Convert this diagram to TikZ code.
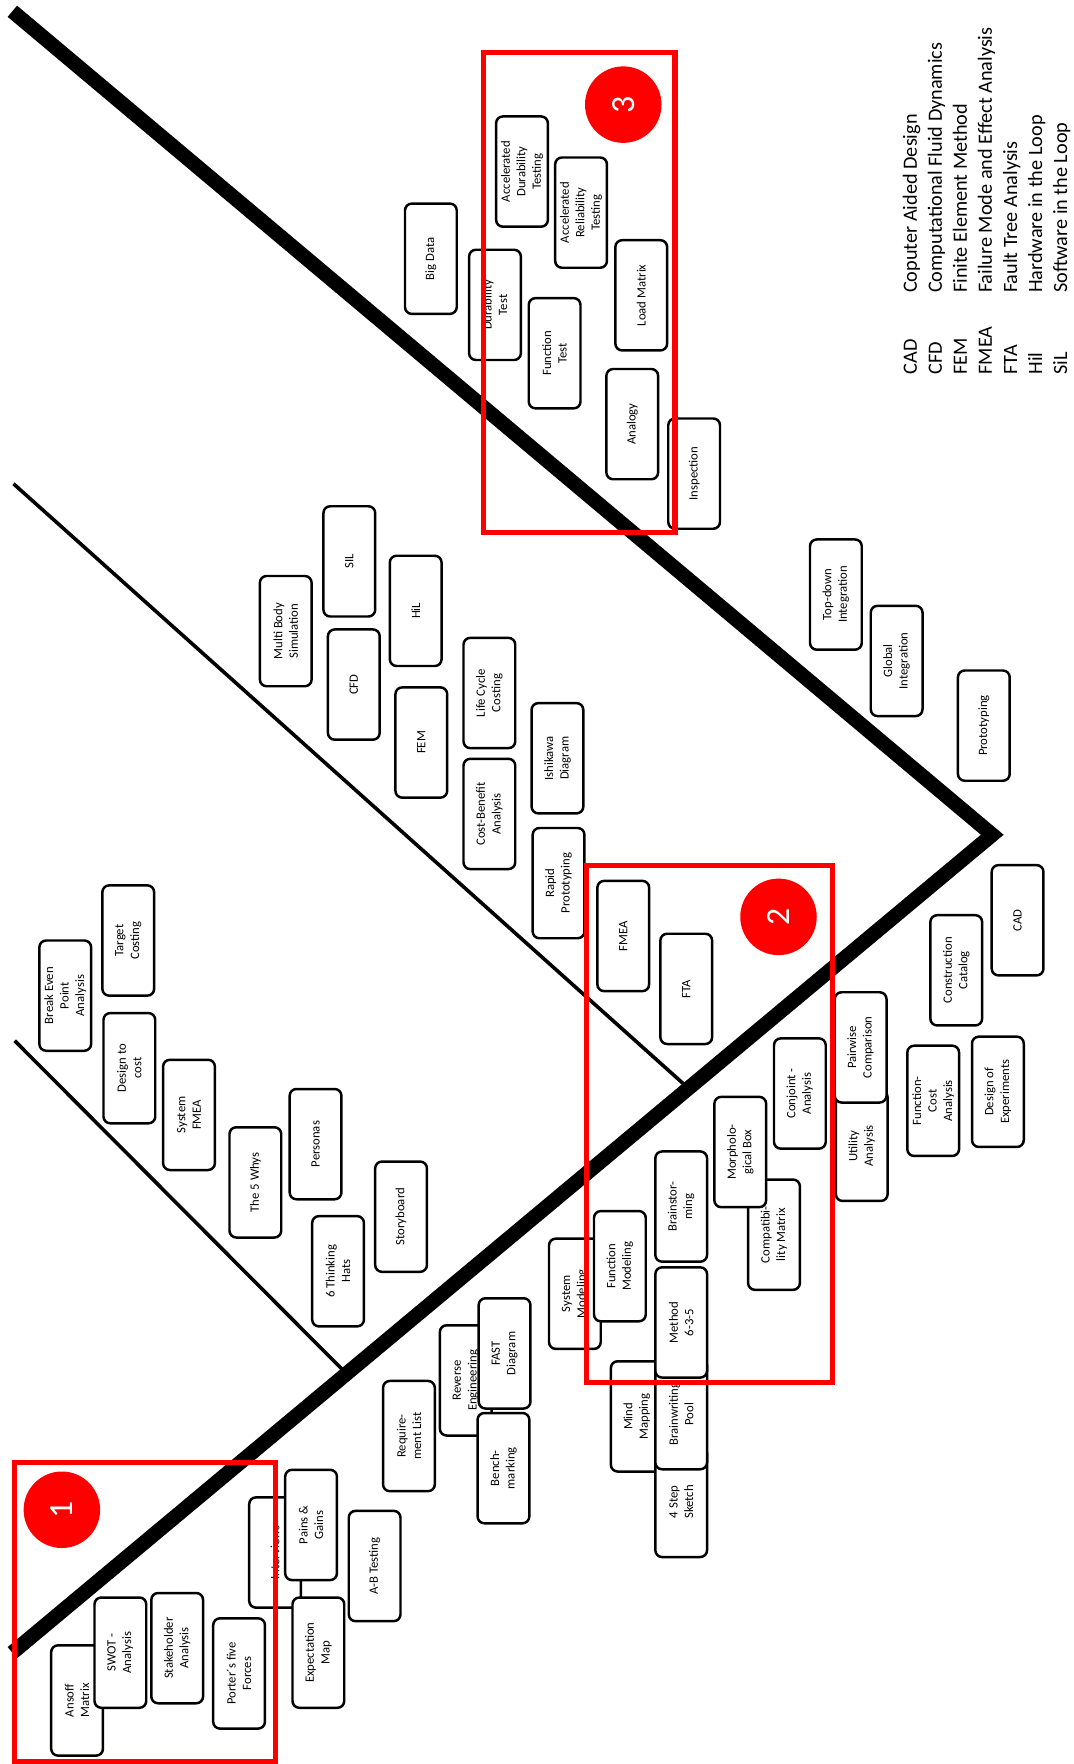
\documentclass[tikz,border=0pt]{standalone}
\usepackage{fontspec}
\setmainfont{Carlito}
\usetikzlibrary{calc}
\begin{document}
\begin{tikzpicture}[x=1pt,y=-1pt,
  bx/.style={draw, line width=2.2pt, rounded corners=6pt, fill=white, rotate=90,
    minimum width=98pt, minimum height=46pt, align=center, inner sep=1pt,
    font=\fontsize{11.3}{13.8}\selectfont},
  leg/.style={rotate=90, inner sep=0pt, font=\fontsize{18}{21}\selectfont},
  redframe/.style={draw=red, line width=4.5pt},
  numdisc/.style={circle, fill=red, minimum size=68pt, inner sep=0pt, text=white,
    rotate=90, font=\fontsize{30}{30}\selectfont},
  spine/.style={line width=13pt, line join=miter, line cap=butt},
  branch/.style={line width=3.2pt}
]
\useasboundingbox (0,0) rectangle (954,1568);

% spine and branches
\coordinate (S) at (11,10);
\coordinate (V) at (882,742);
\coordinate (E) at (11,1469);
\coordinate (b1s) at (12,430);
\coordinate (b2s) at (13,925);
\coordinate (b1e) at ($(V)!0.31!(E)$);
\coordinate (b2e) at ($(V)!0.659!(E)$);
\draw[spine] (S) -- (V) -- (E);
\draw[branch] (b1s) -- (b1e);
\draw[branch] (b2s) -- (b2e);

% group 3 area
\node[bx] (adt) at (464,152.5) {Accelerated\\Durability\\Testing};
\node[bx] (art) at (516.5,189) {Accelerated\\Reliability\\Testing};
\node[bx] (bigdata) at (383,230) {Big Data};
\node[bx] (durtest) at (440,271) {Durability\\Test};
\node[bx] (loadmx) at (570,262.5) {Load Matrix};
\node[bx] (functest) at (493,314) {Function\\Test};
\node[bx] (analogy) at (562,377) {Analogy};
\node[bx] (inspect) at (617,421) {Inspection};

% middle
\node[bx] (mbs) at (254,561) {Multi Body\\Simulation};
\node[bx] (sil) at (310.5,499) {SIL};
\node[bx] (cfd) at (314.5,608.5) {CFD};
\node[bx] (hil) at (369.5,543) {HiL};
\node[bx] (fem) at (374.5,660) {FEM};
\node[bx] (lcc) at (435,616) {Life Cycle\\Costing};
\node[bx] (cba) at (435,723.5) {Cost-Benefit\\Analysis};
\node[bx] (ishi) at (495.5,674) {Ishikawa\\Diagram};
\node[bx] (rapid) at (496.5,785) {Rapid\\Prototyping};

% right
\node[bx] (topdown) at (743,528.5) {Top-down\\Integration};
\node[bx] (global) at (797,587.5) {Global\\Integration};
\node[bx] (proto) at (874.5,645) {Prototyping};
\node[bx] (cad) at (904.5,818) {CAD};
\node[bx] (constr) at (850,862.5) {Construction\\Catalog};
\node[bx] (fca) at (829.5,978.5) {Function-\\Cost\\Analysis};
\node[bx] (doe) at (887,970.5) {Design of\\Experiments};
\node[bx] (utility) at (766,1018.5) {Utility\\Analysis};
\node[bx] (pairwise) at (765,931) {Pairwise\\Comparison};

% group 2
\node[bx] (fmea) at (554,832) {FMEA};
\node[bx] (fta) at (610,879) {FTA};
\node[bx] (conjoint) at (711,972) {Conjoint -\\Analysis};
\node[bx] (compat) at (688,1097.5) {Compatibi-\\lity Matrix};
\node[bx] (morph) at (658,1024) {Morpholo-\\gical Box};
\node[bx] (brainst) at (605.5,1072.5) {Brainstor-\\ming};
\node[bx] (sysmod) at (511,1150) {System\\Modeling};
\node[bx] (funcmod) at (551,1125.5) {Function\\Modeling};
\node[bx] (mindmap) at (566,1259) {Mind\\Mapping};
\node[bx] (foursk) at (605.5,1335) {4 Step\\Sketch};
\node[bx] (bwpool) at (605.5,1257) {Brainwriting\\Pool};
\node[bx] (m635) at (605.5,1175.5) {Method\\6-3-5};

% left upper
\node[bx] (breakeven) at (58,885) {Break Even\\Point\\Analysis};
\node[bx] (target) at (114,836) {Target\\Costing};
\node[bx] (d2c) at (115,949.5) {Design to\\cost};
\node[bx] (sysfmea) at (168,991) {System\\FMEA};
\node[bx] (whys) at (227,1051) {The 5 Whys};
\node[bx] (personas) at (280.5,1017) {Personas};
\node[bx] (story) at (356.5,1081.5) {Storyboard};
\node[bx] (hats) at (300.5,1130) {6 Thinking\\Hats};

% lower middle
\node[bx] (reqlist) at (363.5,1276.5) {Require-\\ment List};
\node[bx] (reveng) at (414,1227) {Reverse\\Engineering};
\node[bx] (fast) at (448.5,1203) {FAST\\Diagram};
\node[bx] (bench) at (447.5,1305) {Bench-\\marking};
\node[bx] (abtest) at (333,1392) {A-B Testing};
\node[bx] (interv) at (244.5,1380) {Interviews};
\node[bx] (pains) at (276.5,1355.5) {Pains \&\\Gains};
\node[bx] (expmap) at (283,1469) {Expectation\\Map};

% group 1
\node[bx] (ansoff) at (68.5,1511.5) {Ansoff\\Matrix};
\node[bx] (swot) at (107,1469) {SWOT -\\Analysis};
\node[bx] (stake) at (157.5,1465) {Stakeholder\\Analysis};
\node[bx] (porter) at (212.5,1487.5) {Porter´s five\\Forces};

% red frames and discs
\draw[redframe] (12.5,1300) rectangle (245,1566);
\draw[redframe] (521,769) rectangle (740,1229);
\draw[redframe] (430,47) rectangle (600,473);
\node[numdisc] (n1) at (55,1342) {1};
\node[numdisc] (n2) at (692,815) {2};
\node[numdisc] (n3) at (554,93) {3};

% legend
\foreach \i/\ab/\txt in {0/CAD/Coputer Aided Design,
  1/CFD/Computational Fluid Dynamics,
  2/FEM/Finite Element Method,
  3/FMEA/Failure Mode and Effect Analysis,
  4/FTA/Fault Tree Analysis,
  5/Hil/Hardware in the Loop,
  6/SiL/Software in the Loop}{
  \node[leg, anchor=base west] (ab\i) at (815+22.25*\i,333) {\ab};
  \node[leg, anchor=base west] (ds\i) at (815+22.25*\i,260.5) {\txt};
}
\end{tikzpicture}
\end{document}
